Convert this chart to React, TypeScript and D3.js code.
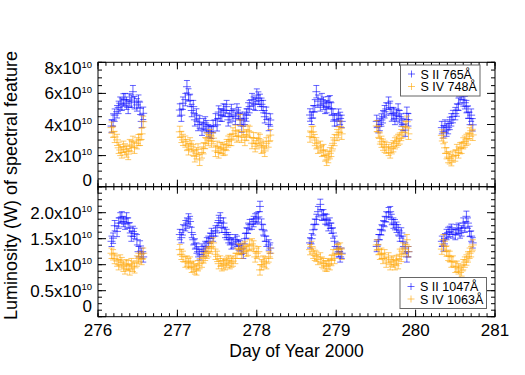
import React from 'react'
import * as d3 from 'd3'

// observation times (day of year 2000), first pass
const days = [
    276.19, 276.24, 276.28, 276.32, 276.36, 276.40, 276.44, 276.49, 276.53, 276.57,
    277.03, 277.07, 277.12, 277.16, 277.20, 277.24, 277.28, 277.33, 277.37, 277.41,
    277.45, 277.50, 277.54, 277.58, 277.62, 277.66, 277.70, 277.75, 277.79, 277.83,
    277.87, 277.91, 277.96, 278.00, 278.04, 278.08, 278.12, 278.17,
    278.67, 278.71, 278.75, 278.80, 278.84, 278.88, 278.92, 278.96, 279.01, 279.05,
    279.53, 279.57, 279.61, 279.66, 279.70, 279.74, 279.78, 279.82, 279.87, 279.89,
    280.35, 280.39, 280.43, 280.47, 280.52, 280.56, 280.60, 280.64, 280.68, 280.72,
]
// the in-between exposures
const daysB = [
    276.17, 276.21, 276.26, 276.30, 276.34, 276.38, 276.42, 276.46, 276.51, 276.55,
    277.05, 277.10, 277.14, 277.18, 277.22, 277.26, 277.31, 277.35, 277.39, 277.43,
    277.48, 277.52, 277.56, 277.60, 277.64, 277.68, 277.73, 277.77, 277.81, 277.85,
    277.89, 277.94, 277.98, 278.02, 278.06, 278.10, 278.15,
    278.69, 278.73, 278.77, 278.82, 278.86, 278.90, 278.94, 278.98, 279.03, 279.07,
    279.51, 279.55, 279.59, 279.63, 279.68, 279.72, 279.76, 279.80, 279.84, 279.91,
    280.33, 280.37, 280.41, 280.45, 280.50, 280.54, 280.58, 280.62, 280.66, 280.70,
]

// luminosities, units of 1e10 W
const sII765 = [
    4.29, 4.82, 5.37, 5.58, 5.37, 5.58, 6.11, 5.26, 5.04, 4.72,
    4.93, 5.37, 6.43, 5.55, 5.15, 4.61, 4.16, 3.98, 3.86, 3.53,
    3.86, 3.98, 4.61, 4.93, 5.15, 4.51, 4.61, 4.93, 4.39, 4.29,
    4.61, 5.15, 5.37, 5.89, 5.55, 5.15, 4.72, 4.29,
    4.61, 4.82, 6.11, 5.26, 5.37, 5.15, 5.46, 4.61, 4.29, 4.39,
    3.86, 4.29, 4.82, 5.37, 4.61, 4.39, 4.93, 4.29, 3.64, 4.72,
    3.53, 3.64, 4.07, 4.51, 4.93, 5.78, 5.58, 5.15, 4.39, 3.98,
]
const sII765B = [
    3.9, 4.6, 5.1, 5.3, 5.6, 5.1, 5.5, 5.4, 5.5, 4.2,
    4.6, 5.6, 5.9, 4.9, 4.3, 4.0, 3.7, 4.1, 3.6, 3.5,
    4.3, 4.8, 4.6, 4.9, 4.3, 4.9, 4.4, 4.7, 3.9, 4.4,
    5.0, 5.6, 5.3, 5.7, 5.3, 4.5, 4.0,
    4.4, 5.2, 5.5, 5.6, 5.1, 5.4, 5.0, 4.3, 4.6, 4.2,
    4.2, 4.0, 4.5, 5.0, 5.1, 4.7, 4.6, 4.5, 4.0, 4.3,
    3.8, 3.9, 3.8, 4.3, 4.7, 5.3, 6.0, 5.4, 4.8, 4.6,
]
const sIV748 = [
    3.53, 3.01, 2.36, 2.57, 2.26, 2.68, 2.89, 2.79, 3.01, 4.18,
    3.53, 3.01, 2.68, 2.79, 2.36, 2.15, 1.72, 2.47, 3.12, 3.32,
    3.12, 2.57, 2.47, 2.36, 2.68, 3.01, 3.43, 3.22, 4.29, 3.53,
    3.32, 3.53, 3.12, 2.79, 3.01, 2.57, 2.79, 3.32,
    3.22, 3.53, 2.79, 2.57, 2.36, 1.72, 2.15, 2.79, 3.32, 3.86,
    3.53, 2.89, 2.57, 2.36, 2.47, 2.79, 3.01, 3.32, 3.86, 4.18,
    3.12, 2.15, 1.82, 1.93, 2.36, 2.47, 2.79, 3.01, 3.43, 3.33,
]
const sIV748B = [
    3.8, 3.2, 2.5, 2.2, 2.4, 2.1, 2.6, 2.5, 3.0, 3.4,
    3.2, 2.9, 2.4, 2.6, 1.95, 2.4, 2.2, 2.8, 3.0, 2.9,
    2.3, 2.2, 2.5, 2.4, 2.9, 3.0, 3.6, 3.3, 3.2, 3.0,
    3.6, 2.8, 2.6, 3.1, 2.5, 2.3, 2.9,
    3.5, 3.0, 2.5, 2.3, 2.0, 1.9, 2.3, 3.0, 3.5, 3.4,
    3.9, 3.1, 2.7, 2.5, 2.2, 2.6, 2.9, 3.1, 3.5, 3.4,
    3.3, 2.5, 1.9, 1.7, 2.0, 2.2, 2.5, 2.9, 3.1, 3.6,
]
const sII1047 = [
    1.51, 1.64, 1.90, 1.83, 1.90, 1.71, 1.64, 1.48, 1.36, 1.15,
    1.58, 1.67, 1.80, 1.83, 1.48, 1.32, 1.19, 1.26, 1.42, 1.51,
    1.55, 1.71, 1.90, 1.80, 1.58, 1.48, 1.42, 1.45, 1.36, 1.22,
    1.61, 1.77, 1.83, 1.90, 2.12, 1.67, 1.45, 1.32,
    1.42, 1.67, 1.87, 2.16, 1.96, 1.87, 1.80, 1.61, 1.32, 1.15,
    1.48, 1.67, 1.83, 2.00, 1.87, 1.77, 1.67, 1.61, 1.32, 1.15,
    1.36, 1.58, 1.64, 1.61, 1.67, 1.61, 1.80, 1.93, 1.64, 1.42,
]
const sII1047B = [
    1.45, 1.75, 1.80, 1.92, 1.78, 1.80, 1.55, 1.60, 1.25, 1.22,
    1.52, 1.75, 1.88, 1.62, 1.40, 1.25, 1.30, 1.35, 1.45, 1.60,
    1.65, 1.85, 1.72, 1.62, 1.52, 1.40, 1.48, 1.38, 1.30, 1.50,
    1.70, 1.78, 1.88, 1.92, 1.78, 1.55, 1.38,
    1.50, 1.78, 2.02, 1.95, 1.88, 1.75, 1.70, 1.45, 1.25, 1.22,
    1.35, 1.58, 1.75, 1.92, 2.02, 1.80, 1.72, 1.55, 1.45, 1.25,
    1.45, 1.50, 1.62, 1.68, 1.58, 1.70, 1.65, 1.72, 1.80, 1.55,
]
const sIV1063 = [
    1.19, 1.07, 1.09, 0.97, 1.00, 0.90, 0.97, 1.07, 1.15, 1.22,
    1.29, 1.16, 1.07, 1.05, 0.97, 0.90, 1.02, 1.13, 1.22, 1.32,
    1.42, 1.16, 1.07, 1.02, 1.05, 1.02, 1.07, 1.22, 1.29, 1.32,
    1.26, 1.38, 1.36, 1.22, 0.90, 1.07, 1.02, 1.22,
    1.29, 1.22, 1.16, 1.13, 1.02, 0.97, 1.00, 1.19, 1.29, 1.32,
    1.29, 1.22, 1.19, 1.13, 1.07, 1.00, 1.02, 1.16, 1.29, 1.48,
    1.48, 1.26, 1.16, 1.07, 0.97, 0.85, 1.00, 1.09, 1.22, 1.38,
]
const sIV1063B = [
    1.22, 1.12, 1.00, 1.04, 0.92, 0.98, 1.02, 0.94, 1.12, 1.10,
    1.20, 1.05, 1.02, 0.95, 0.92, 0.98, 1.05, 1.18, 1.25, 1.35,
    1.20, 1.02, 0.98, 1.00, 1.08, 1.05, 1.12, 1.30, 1.22, 1.35,
    1.28, 1.40, 1.15, 1.25, 1.00, 1.05, 1.15,
    1.35, 1.18, 1.10, 1.05, 0.98, 1.02, 1.08, 1.12, 1.30, 1.20,
    1.38, 1.20, 1.12, 1.05, 1.00, 1.05, 1.08, 1.20, 1.32, 1.25,
    1.30, 1.35, 1.18, 1.05, 0.95, 0.92, 0.88, 1.05, 1.15, 1.25,
]

// one-sigma errors (1e10 W) and half-width of each time bin (days)
const err765 = 0.4
const err748 = 0.36
const err1047 = 0.1
const err1063 = 0.1
const binHalf = 0.05

const xTicks = [276, 277, 278, 279, 280, 281]
const topTicks = [0, 2, 4, 6, 8]
const topLabels = ['0', '2', '4', '6', '8']
const bottomTicks = [0, 0.5, 1, 1.5, 2, 2.5]
const bottomLabels = ['0', '0.5', '1', '1.5', '2.0', '']

const BLUE = '#0000ff'
const ORANGE = '#ffa500'
const FONT = 'Liberation Sans, Arial, Helvetica, sans-serif'

const LEFT = 98
const RIGHT = 495
const TOP = 62.3
const MID = 186.7
const BOTTOM = 316.7

const x = d3.scaleLinear().domain([276, 281]).range([LEFT, RIGHT])

// a data point with its error bars
const Cross = ({ cx, cy, y0, y1, x0, x1, color }) => (
    <g stroke={color} strokeWidth={1} strokeOpacity={0.6}>
        <line x1={cx} x2={cx} y1={y0} y2={y1} />
        <line x1={cx - 3} x2={cx + 3} y1={y0} y2={y0} />
        <line x1={cx - 3} x2={cx + 3} y1={y1} y2={y1} />
        <line x1={x0} x2={x1} y1={cy} y2={cy} />
    </g>
)

const Series = ({ t, values, err, y, color }) => (
    <g>
        {values.map((v, i) => (
            <Cross
                key={i}
                cx={x(t[i])}
                cy={y(v)}
                y0={y(v - err)}
                y1={y(v + err)}
                x0={x(t[i] - binHalf)}
                x1={x(t[i] + binHalf)}
                color={color}
            />
        ))}
    </g>
)

const YAxis = ({ y, ticks, labels, minorStep, nudge }) => {
    const [lo, hi] = y.domain()
    const minor = d3.range(lo, hi + 1e-9, minorStep)
    return (
        <g>
            {minor.map((t, i) => (
                <g key={'m' + i} stroke='#000'>
                    <line x1={LEFT} x2={LEFT + 4} y1={y(t)} y2={y(t)} />
                    <line x1={RIGHT} x2={RIGHT - 4} y1={y(t)} y2={y(t)} />
                </g>
            ))}
            {ticks.map((t, i) => (
                <g key={'M' + i} stroke='#000'>
                    <line x1={LEFT} x2={LEFT + 8} y1={y(t)} y2={y(t)} />
                    <line x1={RIGHT} x2={RIGHT - 8} y1={y(t)} y2={y(t)} />
                </g>
            ))}
            {ticks.map((t, i) => labels[i] === '' ? null : (
                <text
                    key={'l' + i}
                    x={92}
                    y={y(t) + 6 + (nudge[i] || 0)}
                    textAnchor='end'
                    fontSize={17}
                    fontFamily={FONT}
                >
                    {labels[i] === '0' ? '0' : (
                        <>
                            <tspan>{labels[i]}x10</tspan>
                            <tspan dy={-6.5} fontSize={9.5}>10</tspan>
                        </>
                    )}
                </text>
            ))}
        </g>
    )
}

// x ticks on the top and bottom edges of a panel
const XTicks = ({ top, bottom }) => {
    const minor = d3.range(276, 281.001, 0.1)
    return (
        <g stroke='#000'>
            {minor.map((t, i) => (
                <g key={'m' + i}>
                    <line x1={x(t)} x2={x(t)} y1={bottom} y2={bottom - 3.5} />
                    <line x1={x(t)} x2={x(t)} y1={top} y2={top + 3.5} />
                </g>
            ))}
            {xTicks.map(t => (
                <g key={t}>
                    <line x1={x(t)} x2={x(t)} y1={bottom} y2={bottom - 7} />
                    <line x1={x(t)} x2={x(t)} y1={top} y2={top + 7} />
                </g>
            ))}
        </g>
    )
}

const Legend = ({ x0, y0, w, names }) => (
    <g fontFamily={FONT} fontSize={12.5}>
        <rect x={x0} y={y0} width={w} height={31} fill='#fff' stroke='#666' />
        {names.map((n, i) => (
            <g key={n.label} transform={`translate(${x0 + 11}, ${y0 + 9 + i * 12.5})`}>
                <g stroke={n.color} strokeOpacity={0.6}>
                    <line x1={-3.5} x2={3.5} y1={0} y2={0} />
                    <line x1={0} x2={0} y1={-3.5} y2={3.5} />
                </g>
                <text x={9} y={4.5}>{n.label}</text>
            </g>
        ))}
    </g>
)

const App = () => {
    const yTop = d3.scaleLinear().domain([0, 8]).range([MID, TOP])
    const yBot = d3.scaleLinear().domain([0, 2.5]).range([BOTTOM, MID])

    return (
        <div style={{ position: 'absolute', left: 0, top: 0 }}>
            <svg width={525} height={375} style={{ display: 'block', background: '#fff' }}>
                <Series t={days} values={sII765} err={err765} y={yTop} color={BLUE} />
                <Series t={daysB} values={sII765B} err={err765} y={yTop} color={BLUE} />
                <Series t={days} values={sIV748} err={err748} y={yTop} color={ORANGE} />
                <Series t={daysB} values={sIV748B} err={err748} y={yTop} color={ORANGE} />
                <Series t={days} values={sII1047} err={err1047} y={yBot} color={BLUE} />
                <Series t={daysB} values={sII1047B} err={err1047} y={yBot} color={BLUE} />
                <Series t={days} values={sIV1063} err={err1063} y={yBot} color={ORANGE} />
                <Series t={daysB} values={sIV1063B} err={err1063} y={yBot} color={ORANGE} />

                <XTicks top={TOP} bottom={MID} />
                <XTicks top={MID} bottom={BOTTOM} />
                <YAxis y={yTop} ticks={topTicks} labels={topLabels} minorStep={0.5} nudge={[-7, 0, 0, 0, 6]} />
                <YAxis y={yBot} ticks={bottomTicks} labels={bottomLabels} minorStep={0.125} nudge={[-11, 0, 0, 0, 0]} />

                <rect x={LEFT} y={TOP} width={RIGHT - LEFT} height={MID - TOP} fill='none' stroke='#000' />
                <rect x={LEFT} y={MID} width={RIGHT - LEFT} height={BOTTOM - MID} fill='none' stroke='#000' />

                <Legend
                    x0={400.5}
                    y0={65}
                    w={79.5}
                    names={[{ label: 'S II 765Å', color: BLUE }, { label: 'S IV 748Å', color: ORANGE }]}
                />
                <Legend
                    x0={400}
                    y0={277.5}
                    w={86.5}
                    names={[{ label: 'S II 1047Å', color: BLUE }, { label: 'S IV 1063Å', color: ORANGE }]}
                />

                <g fontFamily={FONT} fontSize={17}>
                    {xTicks.map(t => (
                        <text key={t} x={x(t)} y={336} textAnchor='middle'>{t}</text>
                    ))}
                </g>
                <text x={(LEFT + RIGHT) / 2} y={357} textAnchor='middle' fontFamily={FONT} fontSize={17.5}>
                    Day of Year 2000
                </text>
                <text
                    transform={`translate(17, ${(TOP + BOTTOM) / 2 - 4}) rotate(-90)`}
                    textAnchor='middle'
                    fontFamily={FONT}
                    fontSize={18}
                >
                    Luminosity (W) of spectral feature
                </text>
            </svg>
        </div>
    )
}

export default App
